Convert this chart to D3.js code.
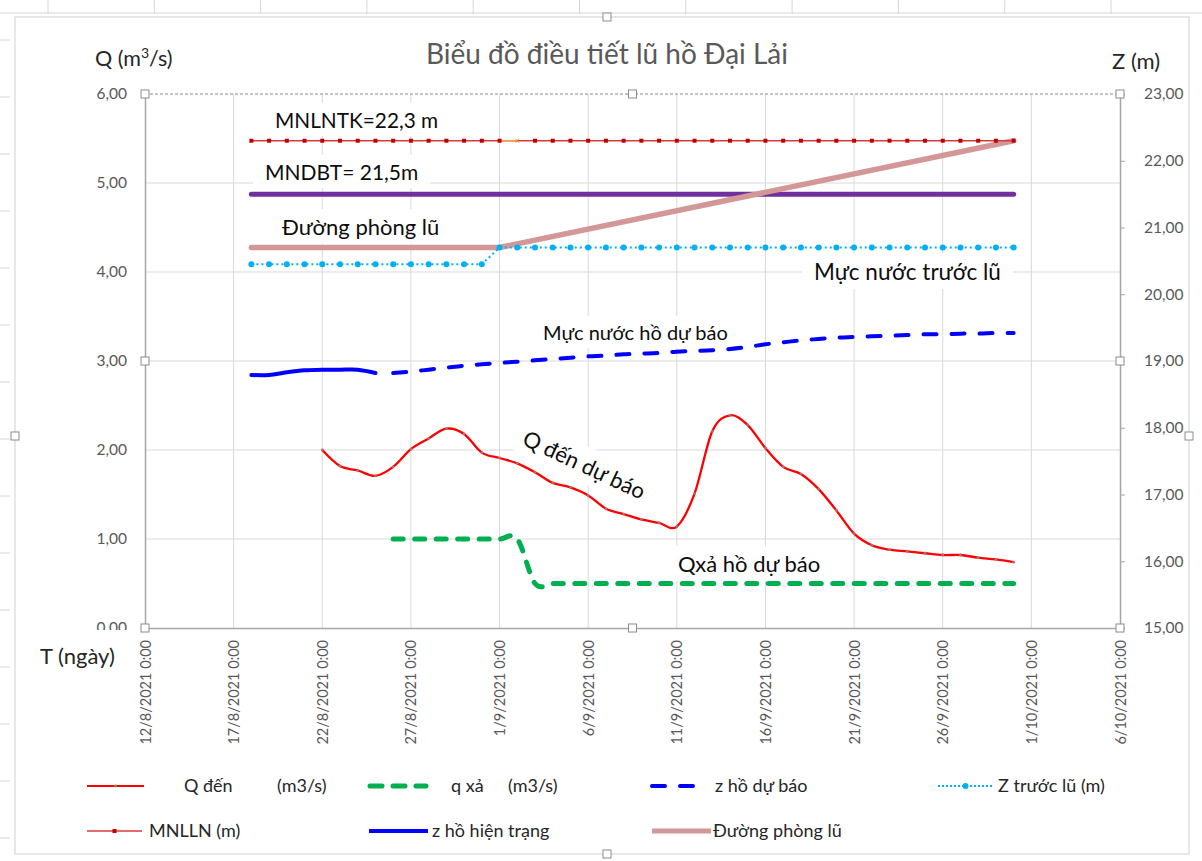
<!DOCTYPE html>
<html><head><meta charset="utf-8">
<script src="https://cdn.jsdelivr.net/npm/d3@7"></script>
<style>
body{margin:0;background:#fff}
text{font-family:Lato,"Open Sans","Liberation Sans",sans-serif}
</style>
</head><body>
<svg id="c" width="1202" height="861"></svg>
<script>
// ---------- DATA ----------
const xTickLabels = ["12/8/2021","17/8/2021","22/8/2021","27/8/2021","1/9/2021","6/9/2021",
  "11/9/2021","16/9/2021","21/9/2021","26/9/2021","1/10/2021","6/10/2021"];
const qTicks = [0,1,2,3,4,5,6];
const zTicks = [15,16,17,18,19,20,21,22,23];

// Q đến (m3/s), daily from 22/8/2021
const qDenStart = "22/8/2021";
const qDen = [2.00,1.82,1.77,1.71,1.81,2.01,2.13,2.24,2.18,1.97,
              1.91,1.85,1.75,1.63,1.58,1.49,1.34,1.28,1.22,1.18,
              1.14,1.51,2.21,2.39,2.28,2.02,1.81,1.73,1.56,1.32,
              1.06,0.93,0.88,0.86,0.84,0.82,0.82,0.79,0.77,0.74];

// q xả (m3/s), daily from 26/8/2021
const qXaStart = "26/8/2021";
const qXa = [1.0,1.0,1.0,1.0,1.0,1.0,1.0,1.0,
             0.5,0.5,0.5,0.5,0.5,0.5,0.5,0.5,0.5,0.5,0.5,0.5,0.5,0.5,
             0.5,0.5,0.5,0.5,0.5,0.5,0.5,0.5,0.5,0.5,0.5,0.5,0.5,0.5];

// z hồ hiện trạng (m), daily from 18/8/2021
const zHienTrangStart = "18/8/2021";
const zHienTrang = [18.79,18.79,18.83,18.86,18.87,18.87,18.87,18.82];

// z hồ dự báo (m), daily from 26/8/2021
const zDuBaoStart = "26/8/2021";
const zDuBao = [18.82,18.84,18.87,18.90,18.93,18.95,
                18.97,18.99,19.01,19.03,19.05,19.07,19.08,19.10,19.11,19.12,
                19.14,19.15,19.16,19.18,19.21,19.25,19.28,19.31,19.33,19.35,
                19.36,19.37,19.38,19.39,19.40,19.40,19.41,19.41,19.42,19.42];

// MNLLN (m), daily from 18/8/2021
const mnlnStart = "18/8/2021";
const mnln = [22.3,22.3,22.3,22.3,22.3,22.3,22.3,22.3,22.3,22.3,22.3,22.3,22.3,22.3,
              22.3,22.3,22.3,22.3,22.3,22.3,22.3,22.3,22.3,22.3,22.3,22.3,22.3,22.3,22.3,22.3,
              22.3,22.3,22.3,22.3,22.3,22.3,22.3,22.3,22.3,22.3,22.3,22.3,22.3,22.3];
const mnlnOddPoint = "2/9/2021";

// Z trước lũ (m), daily from 18/8/2021
const zTruocLuStart = "18/8/2021";
const zTruocLu = [20.45,20.45,20.45,20.45,20.45,20.45,20.45,20.45,20.45,20.45,20.45,20.45,20.45,20.45,
                  20.70,20.70,20.70,20.70,20.70,20.70,20.70,20.70,20.70,20.70,20.70,20.70,20.70,20.70,20.70,
                  20.70,20.70,20.70,20.70,20.70,20.70,20.70,20.70,20.70,20.70,20.70,20.70,20.70,20.70,20.70];

// MNDBT (m)
const mndbtDates = ["18/8/2021","30/9/2021"];
const mndbt = [21.5,21.5];

// Đường phòng lũ (m)
const phongLuDates = ["18/8/2021","1/9/2021","30/9/2021"];
const phongLu = [20.7,20.7,22.3];

// ---------- CHART ----------
const parse = d3.timeParse("%d/%m/%Y");
const daily = (start, vals) => vals.map((v,i)=>({d:d3.timeDay.offset(parse(start),i), v}));
const dated = (dates, vals) => vals.map((v,i)=>({d:parse(dates[i]), v}));

const L=145, R=1120, T=94, B=628;
const svg = d3.select("#c");
const x = d3.scaleTime().domain([parse(xTickLabels[0]), parse(xTickLabels[xTickLabels.length-1])]).range([L,R]);
const yQ = d3.scaleLinear().domain([0,6]).range([B,T]);
const yZ = d3.scaleLinear().domain([15,23]).range([B,T]);
const tickDates = xTickLabels.map(parse);
const fmtNum = d => d.toFixed(2).replace('.',',');

svg.append("rect").attr("width",1202).attr("height",861).attr("fill","#fff");

// spreadsheet marks around the chart
const sheet = svg.append("g").attr("stroke","#d6d6d6");
d3.range(48, 1202, 106.3).forEach(cx => sheet.append("line").attr("x1",cx).attr("x2",cx).attr("y1",0).attr("y2",14));
d3.range(40, 861, 57).forEach(cy => sheet.append("line").attr("x1",0).attr("x2",10).attr("y1",cy).attr("y2",cy));
sheet.append("line").attr("x1",0).attr("x2",1202).attr("y1",13).attr("y2",13);

// chart frame
svg.append("rect").attr("x",15).attr("y",17).attr("width",1174).attr("height",837)
  .attr("fill","#fff").attr("stroke","#d0d0d0");

// gridlines
const grid = svg.append("g").attr("stroke","#d9d9d9").attr("stroke-width",1);
tickDates.slice(1,-1).forEach(d => grid.append("line").attr("x1",x(d)).attr("x2",x(d)).attr("y1",T).attr("y2",B));
qTicks.filter(q=>q>0 && q<6).forEach(q => grid.append("line").attr("x1",L).attr("x2",R).attr("y1",yQ(q)).attr("y2",yQ(q)));
svg.append("line").attr("x1",L).attr("x2",R).attr("y1",yQ(6)).attr("y2",yQ(6))
  .attr("stroke","#8a86a6").attr("stroke-width",1.2).attr("stroke-dasharray","3,2");

// axes
const axL = svg.append("g").attr("transform",`translate(${L},0)`)
  .call(d3.axisLeft(yQ).tickValues(qTicks).tickFormat(fmtNum).tickSize(0).tickPadding(18));
const axR = svg.append("g").attr("transform",`translate(${R},0)`)
  .call(d3.axisRight(yZ).tickValues(zTicks).tickFormat(fmtNum).tickSize(5).tickPadding(19));
const axB = svg.append("g").attr("transform",`translate(0,${B})`)
  .call(d3.axisBottom(x).tickValues(tickDates).tickFormat(d3.timeFormat("%-d/%-m/%Y 0:00")).tickSize(0));
axB.selectAll("text").attr("transform","rotate(-90)").attr("text-anchor","end")
  .attr("x",-12).attr("y",0).attr("dy","0.35em");
[axL,axR,axB].forEach(a=>{
  a.selectAll("text").attr("fill","#595959").style("font-size","15.5px").style("font-family","Lato");
  a.selectAll(".tick line").attr("stroke","#a6a6a6");
  a.select(".domain").attr("stroke","#a6a6a6").attr("stroke-width",1.5);
});
axB.selectAll("text").style("font-size","14.5px");

// annotation labels with white boxes
function label(txt, lx, ly, size, rot){
  const g = svg.append("g").attr("transform",`translate(${lx},${ly}) rotate(${rot||0})`);
  const r = g.append("rect").attr("fill","#fff");
  const t = g.append("text").text(txt).attr("fill","#0d0d0d").style("font-size",size+"px");
  const bb = t.node().getBBox();
  r.attr("x",bb.x-12).attr("y",bb.y-4).attr("width",bb.width+24).attr("height",bb.height+8);
  return g;
}
label("MNLNTK=22,3 m", 275, 128, 20.8);
label("MNDBT= 21,5m", 265, 180, 21);
label("Đường phòng lũ", 282, 235, 22);
label("Mực nước trước  lũ", 814, 280, 22.5);
label("Mực nước hồ dự báo", 543, 340, 20);
label("Q đến dự báo", 521, 444, 22, 25);
label("Qxả hồ dự báo", 678, 572, 22);

// series
const lineZ = (curve) => d3.line().x(p=>x(p.d)).y(p=>yZ(p.v)).curve(curve||d3.curveLinear);
const lineQ = (curve) => d3.line().x(p=>x(p.d)).y(p=>yQ(p.v)).curve(curve||d3.curveLinear);
const smooth = d3.curveCardinal.tension(0);

// MNDBT
svg.append("path").datum(dated(mndbtDates,mndbt)).attr("d",lineZ())
  .attr("fill","none").attr("stroke","#7030A0").attr("stroke-width",5).attr("stroke-linecap","round");
// Đường phòng lũ
svg.append("path").datum(dated(phongLuDates,phongLu)).attr("d",lineZ())
  .attr("fill","none").attr("stroke","#d39797").attr("stroke-width",5.5).attr("stroke-linecap","round");
// Z trước lũ
const ztl = daily(zTruocLuStart, zTruocLu);
svg.append("path").datum(ztl).attr("d",lineZ())
  .attr("fill","none").attr("stroke","#00B0F0").attr("stroke-width",2).attr("stroke-dasharray","2,3");
svg.append("g").selectAll("circle").data(ztl).join("circle")
  .attr("cx",p=>x(p.d)).attr("cy",p=>yZ(p.v)).attr("r",3).attr("fill","#00B0F0");
// MNLLN
const mn = daily(mnlnStart, mnln);
svg.append("path").datum(mn).attr("d",lineZ())
  .attr("fill","none").attr("stroke","#d83a3a").attr("stroke-width",1.6);
const odd = parse(mnlnOddPoint);
const oddIdx = mn.findIndex(p=>+p.d===+odd);
svg.append("path").datum(mn.slice(oddIdx-1,oddIdx+1)).attr("d",lineZ())
  .attr("fill","none").attr("stroke","#f0a050").attr("stroke-width",1.6);
svg.append("g").selectAll("rect").data(mn.filter((p,i)=>i!==oddIdx)).join("rect")
  .attr("x",p=>x(p.d)-2).attr("y",p=>yZ(p.v)-2).attr("width",4).attr("height",4).attr("fill","#c00000");
svg.append("text").attr("x",x(odd)).attr("y",yZ(mn[oddIdx].v)).attr("dy","0.35em").attr("text-anchor","middle")
  .attr("fill","#f08030").style("font-size","9px").text("×");
// z hồ hiện trạng
svg.append("path").datum(daily(zHienTrangStart,zHienTrang)).attr("d",lineZ(smooth))
  .attr("fill","none").attr("stroke","#0000FF").attr("stroke-width",4).attr("stroke-linecap","round");
// z hồ dự báo
svg.append("path").datum(daily(zDuBaoStart,zDuBao)).attr("d",lineZ(smooth))
  .attr("fill","none").attr("stroke","#0000FF").attr("stroke-width",4)
  .attr("stroke-linecap","round").attr("stroke-dasharray","13,15");
// Q đến
const qd = daily(qDenStart,qDen);
svg.append("path").datum(qd).attr("d",lineQ(smooth))
  .attr("fill","none").attr("stroke","#FF0000").attr("stroke-width",2.3);
svg.append("g").selectAll("circle").data(qd).join("circle")
  .attr("cx",p=>x(p.d)).attr("cy",p=>yQ(p.v)).attr("r",1.4).attr("fill","#a87070");
// q xả
svg.append("path").datum(daily(qXaStart,qXa)).attr("d",lineQ(smooth))
  .attr("fill","none").attr("stroke","#00B050").attr("stroke-width",5)
  .attr("stroke-linecap","round").attr("stroke-dasharray","10,11.5");

// handles on plot area and chart area
const handle = (hx,hy)=>svg.append("rect").attr("x",hx-4).attr("y",hy-4).attr("width",8).attr("height",8)
  .attr("fill","#fff").attr("stroke","#8c8c8c");
[[L,T],[(L+R)/2,T],[R,T],[L,(T+B)/2],[R,(T+B)/2],[L,B],[(L+R)/2,B],[R,B]].forEach(p=>handle(p[0],p[1]));
[[607,17],[15,436],[1189,436],[607,854]].forEach(p=>handle(p[0],p[1]));

// titles
svg.append("text").attr("x",607).attr("y",64).attr("text-anchor","middle").attr("fill","#595959")
  .style("font-size","28px").text("Biểu đồ điều tiết lũ hồ Đại Lải");
const qt = svg.append("text").attr("x",95).attr("y",66).attr("fill","#262626").style("font-size","21.5px");
qt.append("tspan").text("Q (m");
qt.append("tspan").attr("dy",-8).style("font-size","14px").text("3");
qt.append("tspan").attr("dy",8).text("/s)");
svg.append("text").attr("x",1112).attr("y",69).attr("fill","#262626").style("font-size","22px").text("Z (m)");
svg.append("rect").attr("x",28).attr("y",630).attr("width",100).attr("height",45).attr("fill","#fff");
svg.append("text").attr("x",40).attr("y",664).attr("fill","#262626").style("font-size","22px").text("T (ngày)");

// legend
const legend = [
  {row:0, x0:87, x1:144, color:"#FF0000", w:2, dash:null, marker:"dot", label:"Q đến", extra:"(m3/s)", tx:184, ex:277},
  {row:0, x0:370, x1:426, color:"#00B050", w:5, dash:"12,11", label:"q xả", extra:"(m3/s)", tx:451, ex:508},
  {row:0, x0:652, x1:708, color:"#0000FF", w:4, dash:"13,15", label:"z hồ dự báo", tx:715},
  {row:0, x0:938, x1:993, color:"#00B0F0", w:2, dash:"2,2", marker:"circle", label:"Z trước lũ (m)", tx:998},
  {row:1, x0:87, x1:142, color:"#d83a3a", w:1.5, dash:null, marker:"square", label:"MNLLN (m)", tx:149},
  {row:1, x0:369, x1:428, color:"#0000FF", w:4, dash:null, label:"z hồ hiện trạng", tx:432},
  {row:1, x0:652, x1:711, color:"#d39797", w:5, dash:null, label:"Đường phòng lũ", tx:713}
];
const lg = svg.append("g");
legend.forEach(it=>{
  const ly = it.row===0 ? 786 : 831;
  lg.append("line").attr("x1",it.x0).attr("x2",it.x1).attr("y1",ly).attr("y2",ly)
    .attr("stroke",it.color).attr("stroke-width",it.w)
    .attr("stroke-linecap", it.dash && it.w>=4 ? "round" : "butt")
    .attr("stroke-dasharray",it.dash);
  const mx=(it.x0+it.x1)/2;
  if(it.marker==="circle") lg.append("circle").attr("cx",mx).attr("cy",ly).attr("r",3).attr("fill",it.color);
  if(it.marker==="square") lg.append("rect").attr("x",mx-2).attr("y",ly-2).attr("width",4).attr("height",4).attr("fill","#c00000");
  if(it.marker==="dot") lg.append("circle").attr("cx",mx).attr("cy",ly).attr("r",1.4).attr("fill","#a87070");
  lg.append("text").attr("x",it.tx).attr("y",ly).attr("dy","0.35em").attr("fill","#262626")
    .style("font-size","18px").text(it.label);
  if(it.extra) lg.append("text").attr("x",it.ex).attr("y",ly).attr("dy","0.35em").attr("fill","#262626")
    .style("font-size","18px").text(it.extra);
});
</script>
</body></html>
